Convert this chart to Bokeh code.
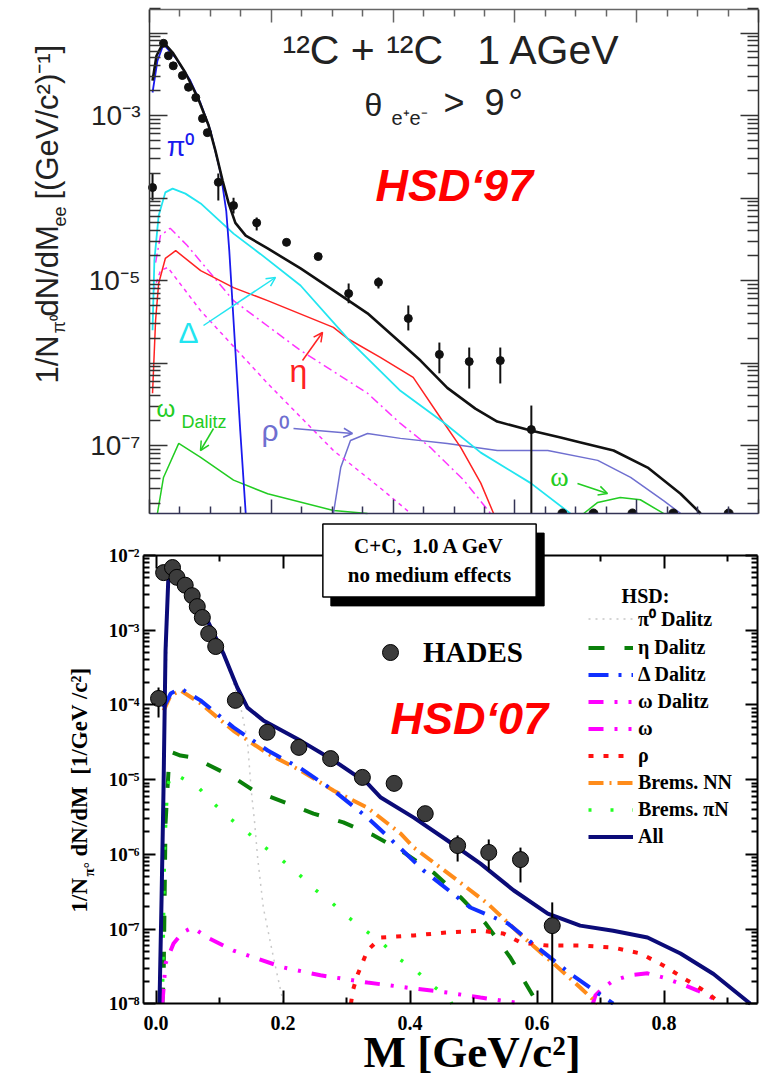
import numpy as np
from bokeh.plotting import figure
from bokeh.layouts import column
from bokeh.models import (Range1d, LogAxis, LinearAxis, FixedTicker, CustomJSTickFormatter,
                          Label, Arrow, OpenHead, Legend, LegendItem, PrintfTickFormatter)
from bokeh.embed import file_html
from bokeh.resources import INLINE

# ======================= TOP PANEL (HSD'97) data =======================
top_data_m = [0.005, 0.023, 0.031, 0.039, 0.054, 0.064, 0.076, 0.087, 0.095, 0.113, 0.138, 0.176,
              0.225, 0.277, 0.327, 0.376, 0.425, 0.476, 0.525, 0.576, 0.627]
top_data_y = [1.34e-4, 7.5e-3, 5.3e-3, 4.0e-3, 3.05e-3, 2.2e-3, 1.65e-3, 9.2e-4, 6.2e-4, 1.55e-4, 8.1e-5, 5.0e-5,
              2.9e-5, 1.95e-5, 6.95e-6, 9.5e-6, 3.47e-6, 1.27e-6, 1.04e-6, 1.07e-6, 1.56e-7]
top_data_hi = [1.98e-4, 7.5e-3, 5.3e-3, 4.0e-3, 3.05e-3, 2.2e-3, 1.65e-3, 9.2e-4, 6.2e-4, 1.98e-4, 1.01e-4, 5.8e-5,
               2.9e-5, 1.95e-5, 9.2e-6, 1.09e-5, 4.98e-6, 1.77e-6, 1.54e-6, 1.54e-6, 3.05e-7]
top_data_lo = [9.3e-5, 7.5e-3, 5.3e-3, 4.0e-3, 3.05e-3, 2.2e-3, 1.65e-3, 9.2e-4, 6.2e-4, 9.3e-5, 6.5e-5, 4.04e-5,
               2.9e-5, 1.95e-5, 5.3e-6, 8.0e-6, 2.48e-6, 7.5e-7, 4.9e-7, 5.65e-7, 1.5e-8]
# points sitting on the lower edge of the top panel (off scale)
top_edge_m = [0.678, 0.729, 0.793, 0.860, 0.951]
top_edge_y = [1.5e-8, 1.5e-8, 1.5e-8, 1.5e-8, 1.5e-8]

top_total_m = [0.005, 0.0115, 0.023, 0.038, 0.059, 0.080, 0.097, 0.108, 0.120, 0.130, 0.141, 0.158, 0.194,
               0.248, 0.302, 0.358, 0.412, 0.445, 0.489, 0.535, 0.571, 0.626, 0.675, 0.708, 0.762, 0.818,
               0.872, 0.905]
top_total_y = [2.65e-3, 5.3e-3, 7.7e-3, 5.8e-3, 3.3e-3, 1.6e-3, 7.6e-4, 3.8e-4, 1.63e-4, 8.6e-5, 5.0e-5, 3.5e-5,
               2.45e-5, 1.4e-5, 7.6e-6, 4.0e-6, 1.77e-6, 1.07e-6, 5.0e-7, 2.8e-7, 1.95e-7, 1.52e-7, 1.25e-7,
               1.09e-7, 8.7e-8, 5.4e-8, 2.6e-8, 1.5e-8]
top_pi0_m = [0.005, 0.013, 0.023, 0.043, 0.067, 0.084, 0.100, 0.117, 0.126, 0.131, 0.141, 0.149, 0.158]
top_pi0_y = [1.9e-3, 4.6e-3, 7.3e-3, 5.0e-3, 2.65e-3, 1.4e-3, 6.6e-4, 1.98e-4, 7.0e-5, 2.3e-5, 1.42e-6, 1.52e-7,
             1.5e-8]
top_delta_m = [0.005, 0.008, 0.015, 0.026, 0.038, 0.059, 0.084, 0.138, 0.182, 0.248, 0.330, 0.412, 0.483, 0.544,
               0.626, 0.691]
top_delta_y = [2.5e-6, 1.75e-5, 6.1e-5, 1.17e-4, 1.3e-4, 1.13e-4, 8.6e-5, 3.7e-5, 2.1e-5, 8.7e-6, 1.82e-6, 4.6e-7,
               1.9e-7, 8.2e-8, 3.5e-8, 1.5e-8]
top_eta_m = [0.005, 0.010, 0.015, 0.026, 0.043, 0.084, 0.138, 0.194, 0.302, 0.325, 0.379, 0.433, 0.483, 0.511,
             0.544, 0.565]
top_eta_y = [4.3e-7, 3.3e-6, 9.2e-6, 1.85e-5, 2.3e-5, 1.32e-5, 8.2e-6, 5.7e-6, 2.7e-6, 1.98e-6, 1.17e-6, 6.7e-7,
             1.9e-7, 9.5e-8, 3.5e-8, 1.5e-8]
top_mdd_m = [0.010, 0.018, 0.034, 0.062, 0.138, 0.248, 0.358, 0.412, 0.461, 0.516, 0.560]
top_mdd_y = [1.65e-5, 3.5e-5, 4.3e-5, 2.65e-5, 5.7e-6, 1.42e-6, 4.3e-7, 1.85e-7, 9.5e-8, 3.8e-8, 1.5e-8]
top_mdot_m = [0.007, 0.018, 0.030, 0.084, 0.194, 0.302, 0.384, 0.429]
top_mdot_y = [7.6e-6, 1.32e-5, 1.44e-5, 4.3e-6, 5.65e-7, 8.7e-8, 2.85e-8, 1.5e-8]
top_omd_m = [0.013, 0.023, 0.048, 0.084, 0.138, 0.194, 0.302, 0.358]
top_omd_y = [1.5e-8, 4.1e-8, 1.06e-7, 7.2e-8, 3.8e-8, 2.6e-8, 1.63e-8, 1.5e-8]
top_rho_m = [0.302, 0.314, 0.330, 0.358, 0.412, 0.489, 0.571, 0.654, 0.736, 0.790, 0.844, 0.872]
top_rho_y = [1.5e-8, 5.4e-8, 1.15e-7, 1.4e-7, 1.22e-7, 1.06e-7, 8.7e-8, 8.7e-8, 6.6e-8, 4.1e-8, 2.15e-8, 1.5e-8]
top_om_m = [0.713, 0.736, 0.773, 0.806, 0.844]
top_om_y = [1.5e-8, 2.04e-8, 2.34e-8, 2.2e-8, 1.5e-8]

top_x_major = [0.0, 0.2, 0.4, 0.6, 0.8, 1.0]
top_x_minor = [0.05, 0.1, 0.15, 0.25, 0.3, 0.35, 0.45, 0.5, 0.55, 0.65, 0.7, 0.75, 0.85, 0.9, 0.95]
top_y_major = [1e-7, 1e-6, 1e-5, 1e-4, 1e-3, 1e-2]

# ======================= BOTTOM PANEL (HSD'07) data =======================
hades_m = [0.004, 0.012, 0.026, 0.033, 0.046, 0.057, 0.065, 0.073, 0.083, 0.094, 0.125, 0.175, 0.225, 0.275,
           0.325, 0.375, 0.424, 0.475, 0.524, 0.574, 0.624]
hades_y = [1.22e-4, 5.9e-3, 6.9e-3, 5.1e-3, 4.0e-3, 2.9e-3, 2.07e-3, 1.48e-3, 9.0e-4, 6.05e-4, 1.15e-4, 4.3e-5,
           2.7e-5, 1.91e-5, 1.07e-5, 8.9e-6, 3.5e-6, 1.31e-6, 1.06e-6, 8.5e-7, 1.11e-7]
hades_hi = [1.71e-4, 5.9e-3, 6.9e-3, 5.1e-3, 4.0e-3, 2.9e-3, 2.07e-3, 1.48e-3, 9.0e-4, 6.05e-4, 1.15e-4, 4.3e-5,
            2.7e-5, 1.91e-5, 1.07e-5, 8.9e-6, 3.5e-6, 1.79e-6, 1.58e-6, 1.23e-6, 2.27e-7]
hades_lo = [6.8e-5, 5.9e-3, 6.9e-3, 5.1e-3, 4.0e-3, 2.9e-3, 2.07e-3, 1.48e-3, 9.0e-4, 6.05e-4, 1.15e-4, 4.3e-5,
            2.7e-5, 1.91e-5, 1.07e-5, 8.9e-6, 3.5e-6, 8.0e-7, 6.1e-7, 4.2e-7, 1e-8]

all_m = [0.0055, 0.0087, 0.0118, 0.015, 0.0197, 0.031, 0.0496, 0.081, 0.106, 0.128, 0.144, 0.169, 0.228, 0.280,
         0.333, 0.354, 0.406, 0.459, 0.511, 0.563, 0.617, 0.668, 0.720, 0.774, 0.826, 0.878, 0.936]
all_y = [1e-8, 2.4e-7, 7.1e-6, 5.3e-4, 5.7e-3, 5.4e-3, 3.7e-3, 1.35e-3, 4.9e-4, 1.71e-4, 9.2e-5, 6.2e-5, 3.3e-5,
         1.8e-5, 8.9e-6, 5.75e-6, 3.1e-6, 1.53e-6, 7.5e-7, 3.3e-7, 1.61e-7, 1.11e-7, 9.5e-8, 7.7e-8, 4.7e-8,
         2.5e-8, 1e-8]
pi0d_m = [0.0055, 0.0118, 0.0197, 0.0496, 0.081, 0.1016, 0.117, 0.133, 0.144, 0.150, 0.155, 0.160, 0.169, 0.185,
          0.198, 0.200]
pi0d_y = [1e-8, 7.1e-6, 5.7e-3, 3.7e-3, 1.35e-3, 5.9e-4, 2.63e-4, 9.8e-5, 3.3e-5, 7.1e-6, 2.84e-6, 9.1e-7,
          1.94e-7, 4.15e-8, 1.29e-8, 1e-8]
etad_m = [0.010, 0.012, 0.015, 0.0197, 0.026, 0.0386, 0.059, 0.122, 0.154, 0.207, 0.248, 0.295, 0.343, 0.390,
          0.437, 0.480, 0.519, 0.558, 0.601]
etad_y = [1e-8, 2.2e-8, 2.6e-6, 1.32e-5, 2.3e-5, 2.1e-5, 1.98e-5, 1.07e-5, 7.1e-6, 4.8e-6, 3.5e-6, 2.67e-6,
          1.79e-6, 1.06e-6, 5.7e-7, 2.64e-7, 1.19e-7, 4.15e-8, 1e-8]
deltad_m = [0.012, 0.023, 0.0386, 0.070, 0.122, 0.176, 0.228, 0.280, 0.333, 0.385, 0.421, 0.495, 0.554, 0.601,
            0.653, 0.720]
deltad_y = [9.2e-5, 1.42e-4, 1.66e-4, 1.15e-4, 5.0e-5, 2.45e-5, 1.41e-5, 7.1e-6, 3.1e-6, 1.2e-6, 6.1e-7, 1.94e-7,
            1.19e-7, 5.65e-8, 2.5e-8, 1e-8]
omegad_m = [0.010, 0.015, 0.0276, 0.042, 0.0575, 0.081, 0.122, 0.154, 0.201, 0.259, 0.333, 0.406, 0.459, 0.511,
            0.579]
omegad_y = [1e-8, 3.45e-8, 6.4e-8, 9.0e-8, 1.05e-7, 7.7e-8, 5.15e-8, 4.15e-8, 3.05e-8, 2.4e-8, 1.92e-8, 1.6e-8,
            1.41e-8, 1.21e-8, 1e-8]
omega_m = [0.688, 0.692, 0.703, 0.720, 0.747, 0.774, 0.799, 0.826, 0.853, 0.878, 0.888]
omega_y = [1e-8, 1.29e-8, 1.6e-8, 2.04e-8, 2.4e-8, 2.55e-8, 2.24e-8, 1.86e-8, 1.5e-8, 1.17e-8, 1e-8]
rho_m = [0.307, 0.310, 0.317, 0.333, 0.354, 0.406, 0.459, 0.511, 0.547, 0.574, 0.616, 0.668, 0.720, 0.763, 0.799,
         0.837, 0.868, 0.889]
rho_y = [1e-8, 1.5e-8, 2.4e-8, 5.15e-8, 7.7e-8, 8.2e-8, 9.0e-8, 9.5e-8, 8.7e-8, 6.6e-8, 6.0e-8, 6.0e-8, 5.65e-8,
         4.7e-8, 3.25e-8, 2.04e-8, 1.41e-8, 1e-8]
bremnn_m = [0.012, 0.023, 0.0386, 0.070, 0.122, 0.176, 0.228, 0.280, 0.333, 0.385, 0.406, 0.475, 0.522, 0.579,
            0.626, 0.668, 0.695]
bremnn_y = [8.4e-5, 1.34e-4, 1.56e-4, 1.05e-4, 4.5e-5, 2.23e-5, 1.32e-5, 7.1e-6, 4.2e-6, 1.9e-6, 1.23e-6, 4.45e-7,
            2.2e-7, 7.7e-8, 3.45e-8, 1.65e-8, 1e-8]
brempin_m = [0.010, 0.0134, 0.018, 0.026, 0.067, 0.0906, 0.117, 0.146, 0.172, 0.199, 0.224, 0.248, 0.278, 0.303,
             0.330, 0.357, 0.380, 0.409, 0.432, 0.461, 0.466]
brempin_y = [1e-8, 1.12e-6, 8.3e-6, 1.24e-5, 7.8e-6, 4.8e-6, 3.0e-6, 1.9e-6, 1.23e-6, 8.3e-7, 5.5e-7, 3.5e-7,
             2.2e-7, 1.43e-7, 9.5e-8, 6.4e-8, 4.15e-8, 2.8e-8, 1.86e-8, 1.17e-8, 1e-8]

bot_x_major = [0.0, 0.2, 0.4, 0.6, 0.8]
bot_x_minor = [0.1, 0.3, 0.5, 0.7, 0.9]
bot_y_major = [1e-8, 1e-7, 1e-6, 1e-5, 1e-4, 1e-3, 1e-2]

legend_labels = ["\u03c0\u2070 Dalitz", "\u03b7 Dalitz", "\u0394 Dalitz", "\u03c9 Dalitz", "\u03c9", "\u03c1",
                 "Brems. NN", "Brems. \u03c0N", "All"]

# ---------------- page-pixel geometry (layout only) -------------
W = 769
H1, H2 = 522, 554
PAGE_X0, PAGE_Y1, PAGE_Y2 = 0, 0, H1


def tpos(px, py):
    return (px - 149) / 609.0, 10 ** (-3 - (py - 115) / 82.5)


def bpos(px, py):
    return (px - 155.5) / 635.0, 10 ** (-2 - (py - 555) / 74.7)


def minor_log(lo, hi):
    return [k * 10.0 ** e for e in range(lo, hi) for k in range(2, 10)]


SUP_JS = """
const sup = {"-":"\\u207b","0":"\\u2070","1":"\\u00b9","2":"\\u00b2","3":"\\u00b3","4":"\\u2074",
             "5":"\\u2075","6":"\\u2076","7":"\\u2077","8":"\\u2078","9":"\\u2079"};
const e = Math.round(Math.log10(tick));
"""
EMPTY_FMT_CODE = "return '';"
SANS = "Liberation Sans"
SERIF = "Liberation Serif"
ROT = np.pi / 2
NB = "\u00a0"


def style_axis(ax, color, width, maj, mnr, label_size=None, font=SANS, standoff=0):
    ax.axis_line_color = color
    ax.axis_line_width = width
    ax.major_tick_line_color = color
    ax.minor_tick_line_color = color
    ax.major_tick_line_width = width
    ax.minor_tick_line_width = width
    ax.major_tick_in = maj
    ax.major_tick_out = 0
    ax.minor_tick_in = mnr
    ax.minor_tick_out = 0
    ax.major_label_standoff = standoff
    ax.major_label_text_font = font
    if label_size is None:
        ax.formatter = CustomJSTickFormatter(code=EMPTY_FMT_CODE)
        ax.major_label_text_font_size = "1px"
    else:
        ax.major_label_text_font_size = label_size


# ======================= TOP FIGURE =======================
tx0, ty0 = tpos(PAGE_X0, PAGE_Y1 + H1)
tx1, ty1 = tpos(PAGE_X0 + W, PAGE_Y1)
T_LEFT, T_RIGHT = 0.0, 1.0
T_BOT, T_TOP = tpos(0, 513)[1], tpos(0, 9)[1]

p1 = figure(width=W, height=H1, x_range=Range1d(tx0, tx1), y_range=Range1d(ty0, ty1), y_axis_type="log",
            x_axis_location=None, y_axis_location=None, output_backend="svg", toolbar_location=None,
            min_border_left=0, min_border_right=0, min_border_top=0, min_border_bottom=0)
p1.grid.visible = False
p1.outline_line_color = None
p1.background_fill_color = "white"
p1.border_fill_color = "white"

top_fmt = CustomJSTickFormatter(code=SUP_JS + """
if (e % 2 == 0) { return ""; }
return "10" + String(e).split("").map(c => sup[c]).join("");
""")
yl = LogAxis(ticker=FixedTicker(ticks=top_y_major, minor_ticks=minor_log(-8, -1)), formatter=top_fmt,
             fixed_location=T_LEFT, bounds=(T_BOT, T_TOP))
style_axis(yl, "#333333", 1.5, 18, 11, "28px", SANS, 9)
yl.major_label_text_color = "#222222"
p1.add_layout(yl, "left")
yr = LogAxis(ticker=FixedTicker(ticks=top_y_major, minor_ticks=minor_log(-8, -1)),
             fixed_location=T_RIGHT, bounds=(T_BOT, T_TOP))
style_axis(yr, "#333333", 1.5, 18, 11)
p1.add_layout(yr, "right")
xb = LinearAxis(ticker=FixedTicker(ticks=top_x_major, minor_ticks=top_x_minor),
                fixed_location=T_BOT, bounds=(T_LEFT, T_RIGHT))
style_axis(xb, "#333355", 1.5, 14, 7)
p1.add_layout(xb, "below")
xa = LinearAxis(ticker=FixedTicker(ticks=top_x_major, minor_ticks=top_x_minor),
                fixed_location=T_TOP, bounds=(T_LEFT, T_RIGHT))
style_axis(xa, "#666666", 1.5, 13, 7)
p1.add_layout(xa, "above")

p1.line(top_omd_m, top_omd_y, line_color="#22cc22", line_width=1.5)
p1.line(top_om_m, top_om_y, line_color="#22cc22", line_width=1.5)
p1.line(top_rho_m, top_rho_y, line_color="#6f6fd0", line_width=1.5)
p1.line(top_mdot_m, top_mdot_y, line_color="#ff33ff", line_width=1.5, line_dash="4 4")
p1.line(top_mdd_m, top_mdd_y, line_color="#ff33ff", line_width=1.5, line_dash="9 4 2 4")
p1.line(top_eta_m, top_eta_y, line_color="#ff2222", line_width=1.5)
p1.line(top_delta_m, top_delta_y, line_color="#22e5f0", line_width=1.8)
p1.line(top_pi0_m, top_pi0_y, line_color="#1a1aee", line_width=1.8)
p1.line(top_total_m, top_total_y, line_color="#111111", line_width=2.6)
p1.segment(x0=top_data_m, y0=top_data_lo, x1=top_data_m, y1=top_data_hi, line_color="#111111", line_width=2)
p1.scatter(top_data_m, top_data_y, marker="circle", size=8, fill_color="#111111", line_color="#111111")
p1.wedge(x=top_edge_m, y=top_edge_y, radius=4.5, radius_units="screen", start_angle=0, end_angle=np.pi,
         fill_color="#111111", line_color="#111111")


def tlabel(px, py, text, size, color="#222222", font=SANS, style="normal", align="left", angle=0.0):
    # (px, py): page position of the text's left end and vertical middle
    x, y = tpos(px, py)
    p1.add_layout(Label(x=x, y=y, text=text, text_font=font, text_font_size=f"{size}px",
                        text_color=color, text_font_style=style, text_align=align,
                        text_baseline="middle", angle=angle))


def tarrow(x0, y0, x1, y1, color):
    xs, ys = tpos(x0, y0)
    xe, ye = tpos(x1, y1)
    p1.add_layout(Arrow(x_start=xs, y_start=ys, x_end=xe, y_end=ye, line_color=color, line_width=1.5,
                        end=OpenHead(size=9, line_color=color, line_width=1.5)))


tlabel(282, 49, "\u00b9\u00b2C + \u00b9\u00b2C" + NB + NB + " 1 AGeV", 41)
tlabel(364, 104, "\u03b8", 32)
tlabel(391, 117, "e\u207ae\u207b", 20)
tlabel(443, 102, ">" + NB + NB + "9", 36)
tlabel(508, 102, "\u00b0", 36)
tlabel(375, 185, "HSD\u201897", 45, color="#ff0000", style="bold italic")
tlabel(180, 146, "\u03c0\u2070", 27, color="#1a1aee", align="center")
tlabel(188, 332, "\u0394", 30, color="#22e5f0", align="center")
tlabel(298, 370, "\u03b7", 32, color="#ff2222", align="center")
tlabel(156, 408, "\u03c9", 24, color="#22cc22")
tlabel(181, 421, "Dalitz", 18, color="#22cc22")
tlabel(275, 430, "\u03c1\u2070", 30, color="#6f6fd0", align="center")
tlabel(559, 476, "\u03c9", 28, color="#22cc22", font=SERIF, align="center")
tarrow(203, 325, 275, 277, "#22e5f0")
tarrow(302, 360, 322, 332, "#ff2222")
tarrow(213, 428, 200, 450, "#22cc22")
tarrow(293, 428, 352, 433, "#6f6fd0")
tarrow(577, 483, 607, 493, "#22cc22")
# rotated y-axis title (reads bottom -> top)
tlabel(47, 383, "1/N", 31, angle=ROT)
tlabel(58, 333, "\u03c0\u2070", 18, angle=ROT)
tlabel(47, 316, "dN/dM", 31, angle=ROT)
tlabel(59, 226, "ee", 18, angle=ROT)
tlabel(47, 199, "[(GeV/c\u00b2)\u207b\u00b9]", 31, angle=ROT)

# ======================= BOTTOM FIGURE =======================
bx0, by0 = bpos(PAGE_X0, PAGE_Y2 + H2)
bx1, by1 = bpos(PAGE_X0 + W, PAGE_Y2)
B_LEFT, B_RIGHT = bpos(143, 0)[0], bpos(757, 0)[0]
B_BOT, B_TOP = 1e-8, 1e-2

p2 = figure(width=W, height=H2, x_range=Range1d(bx0, bx1), y_range=Range1d(by0, by1), y_axis_type="log",
            x_axis_location=None, y_axis_location=None, output_backend="svg", toolbar_location=None,
            min_border_left=0, min_border_right=0, min_border_top=0, min_border_bottom=0)
p2.grid.visible = False
p2.outline_line_color = None
p2.background_fill_color = "white"
p2.border_fill_color = "white"

bot_fmt = CustomJSTickFormatter(code=SUP_JS + """
return "10" + String(e).split("").map(c => sup[c]).join("");
""")
byl = LogAxis(ticker=FixedTicker(ticks=bot_y_major, minor_ticks=minor_log(-8, -2)), formatter=bot_fmt,
              fixed_location=B_LEFT, bounds=(B_BOT, B_TOP))
style_axis(byl, "black", 2, 12, 6, "19px", SERIF, 4)
byl.major_label_text_font_style = "bold"
byl.major_label_text_color = "black"
p2.add_layout(byl, "left")
byr = LogAxis(ticker=FixedTicker(ticks=bot_y_major, minor_ticks=minor_log(-8, -2)),
              fixed_location=B_RIGHT, bounds=(B_BOT, B_TOP))
style_axis(byr, "black", 2, 12, 6)
p2.add_layout(byr, "right")
bxb = LinearAxis(ticker=FixedTicker(ticks=bot_x_major, minor_ticks=bot_x_minor),
                 formatter=PrintfTickFormatter(format="%.1f"), fixed_location=B_BOT, bounds=(B_LEFT, B_RIGHT))
style_axis(bxb, "black", 2, 13, 6, "20px", SERIF, 12)
bxb.major_label_text_font_style = "bold"
bxb.major_label_text_color = "black"
p2.add_layout(bxb, "below")
bxa = LinearAxis(ticker=FixedTicker(ticks=bot_x_major, minor_ticks=bot_x_minor),
                 fixed_location=B_TOP, bounds=(B_LEFT, B_RIGHT))
style_axis(bxa, "black", 2, 13, 6)
p2.add_layout(bxa, "above")

r_pi0 = p2.line(pi0d_m, pi0d_y, line_color="#c8c8c8", line_width=1.5, line_dash="2 5")
r_eta = p2.line(etad_m, etad_y, line_color="#0a800a", line_width=4, line_dash="16 20")
r_brpn = p2.line(brempin_m, brempin_y, line_color="#22ff22", line_width=3.5, line_dash="3 19")
r_omd = p2.line(omegad_m, omegad_y, line_color="#ff00ff", line_width=4, line_dash="15 11 3 11 3 11")
r_om = p2.line(omega_m, omega_y, line_color="#ff00ff", line_width=4, line_dash="15 11 3 11 3 11")
r_rho = p2.line(rho_m, rho_y, line_color="#ff1010", line_width=4, line_dash="5 10")
r_nn = p2.line(bremnn_m, bremnn_y, line_color="#ff8c1a", line_width=4, line_dash="15 6 2 6")
r_del = p2.line(deltad_m, deltad_y, line_color="#1030ff", line_width=4, line_dash="20 10 3 10")
r_all = p2.line(all_m, all_y, line_color="#0b0b78", line_width=4)
p2.segment(x0=hades_m, y0=hades_lo, x1=hades_m, y1=hades_hi, line_color="black", line_width=2)
r_hades = p2.scatter(hades_m, hades_y, marker="circle", size=16, fill_color="#3c3c3c", line_color="black",
                     line_width=1)

legend = Legend(items=[LegendItem(label=lab, renderers=[r]) for lab, r in
                       zip(legend_labels, [r_pi0, r_eta, r_del, r_omd, r_om, r_rho, r_nn, r_brpn, r_all])],
                location=(588, 228), orientation="vertical", padding=0, margin=0, spacing=4,
                glyph_width=45, glyph_height=21, label_height=21, label_standoff=5,
                label_text_font=SERIF, label_text_font_style="bold", label_text_font_size="20px",
                label_text_color="black", border_line_alpha=0, background_fill_alpha=0)
p2.add_layout(legend)
hleg = Legend(items=[LegendItem(label="HADES", renderers=[r_hades])], location=(370, 404),
              padding=0, margin=0, glyph_width=40, glyph_height=40, label_height=40, label_standoff=13,
              label_text_font=SERIF, label_text_font_style="bold", label_text_font_size="29px",
              label_text_color="black", border_line_alpha=0, background_fill_alpha=0)
p2.add_layout(hleg)


def blabel(px, py, text, size, color="black", font=SERIF, style="bold", align="left", angle=0.0, **kw):
    # (px, py): page position of the text's left end and vertical middle
    x, y = bpos(px, py)
    p2.add_layout(Label(x=x, y=y, text=text, text_font=font, text_font_size=f"{size}px",
                        text_color=color, text_font_style=style, text_align=align,
                        text_baseline="middle", angle=angle, **kw))


box_text = "C+C," + NB + NB + "1.0 A GeV\nno medium effects"
blabel(437, 569, box_text, 21, color="black", align="center",
       background_fill_color="black", border_line_color="black", padding=(25, 10))
blabel(429, 560, box_text, 21, color="black", align="center",
       background_fill_color="white", border_line_color="black", border_line_width=1.5, padding=(25, 10))
blabel(645, 595, "HSD:", 20, align="center")
blabel(390, 718, "HSD\u201807", 45, color="#ff0000", font=SANS, style="bold italic")
blabel(363, 1051, "M [GeV/c\u00b2]", 45)
blabel(79, 912, "1/N", 23, angle=ROT)
blabel(88, 876, "\u03c0\u00b0", 15, angle=ROT)
blabel(79, 856, "dN/dM" + NB + NB + "[1/GeV /c\u00b2]", 23, angle=ROT)

layout = column(p1, p2, spacing=0)
with open("out.html", "w", encoding="utf-8") as f:
    f.write(file_html(layout, INLINE))
